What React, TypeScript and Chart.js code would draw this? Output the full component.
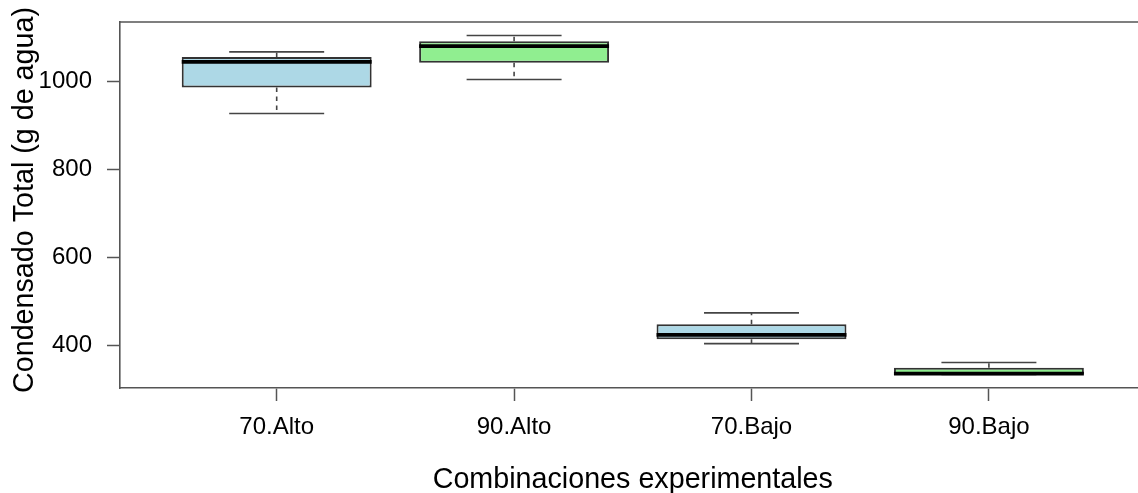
import React, { useEffect, useRef } from 'react';
import { Chart, registerables } from 'chart.js';

Chart.register(...registerables);

// Five-number summaries per experimental combination
const categories = ['70.Alto', '90.Alto', '70.Bajo', '90.Bajo'];
const whiskerLow = [927, 1004, 404, 334];
const q1 = [986, 1042, 414, 335];
const median = [1044, 1080, 424, 336];
const q3 = [1055, 1091, 448, 349];
const whiskerHigh = [1067, 1104, 474, 361];
const boxColors = ['#ADD8E6', '#90EE90', '#ADD8E6', '#90EE90'];
const yTicks = [400, 600, 800, 1000];

const xTitle = 'Combinaciones experimentales';
const yTitle = 'Condensado Total (g de agua)';

const FONT = "'Liberation Sans', Arial, sans-serif";
const AXIS_COLOR = '#555555';
const LINE_COLOR = '#444444';

const positions = categories.map((_, i) => i + 1);

// R-style axis limits: boxes at 1..n with half-unit margins, then 4% padding
const xSpan = categories.length;
const xMin = 0.5 - 0.04 * xSpan;
const xMax = categories.length + 0.5 + 0.04 * xSpan;
const yLo = Math.min(...whiskerLow);
const yHi = Math.max(...whiskerHigh);
const yMin = yLo - 0.04 * (yHi - yLo);
const yMax = yHi + 0.04 * (yHi - yLo);

const noScalePadding = (s: any) => {
  s.paddingTop = 0;
  s.paddingBottom = 0;
  s.paddingLeft = 0;
  s.paddingRight = 0;
};

const boxPlotPlugin = {
  id: 'boxPlotParts',
  afterDatasetsDraw(chart: any) {
    const { ctx, chartArea } = chart;
    const xs = chart.scales.x;
    const ys = chart.scales.y;
    const meta = chart.getDatasetMeta(0);
    ctx.save();
    const seg = (x1: number, y1: number, x2: number, y2: number) => {
      ctx.beginPath();
      ctx.moveTo(x1, y1);
      ctx.lineTo(x2, y2);
      ctx.stroke();
    };
    categories.forEach((_, i) => {
      const cx = xs.getPixelForValue(positions[i]);
      const half = meta.data[i].width / 2;
      const capHalf = half / 2;
      const yLow = ys.getPixelForValue(whiskerLow[i]);
      const yQ1 = ys.getPixelForValue(q1[i]);
      const yMed = ys.getPixelForValue(median[i]);
      const yQ3 = ys.getPixelForValue(q3[i]);
      const yHigh = ys.getPixelForValue(whiskerHigh[i]);

      ctx.strokeStyle = LINE_COLOR;
      ctx.lineWidth = 1.6;
      ctx.setLineDash([4.5, 4.5]);
      seg(cx, yQ3, cx, yHigh);
      seg(cx, yQ1, cx, yLow);
      ctx.setLineDash([]);
      seg(cx - capHalf, yHigh, cx + capHalf, yHigh);
      seg(cx - capHalf, yLow, cx + capHalf, yLow);

      ctx.strokeStyle = '#000000';
      ctx.lineWidth = 3.8;
      seg(cx - half, yMed, cx + half, yMed);
    });

    // top edge of the plot frame
    ctx.strokeStyle = AXIS_COLOR;
    ctx.lineWidth = 1.6;
    seg(chartArea.left, chartArea.top, chartArea.right, chartArea.top);

    // axis titles
    ctx.fillStyle = '#000000';
    ctx.font = `28.7px ${FONT}`;
    ctx.textAlign = 'center';
    ctx.textBaseline = 'alphabetic';
    ctx.fillText(xTitle, (chartArea.left + chartArea.right) / 2, 488);
    ctx.translate(33, 200);
    ctx.rotate(-Math.PI / 2);
    ctx.fillText(yTitle, 0, 0);
    ctx.restore();
  },
};

export default function App() {
  const canvasRef = useRef<HTMLCanvasElement | null>(null);

  useEffect(() => {
    const canvas = canvasRef.current;
    if (!canvas) return;
    const chart = new Chart(canvas, {
      type: 'bar',
      data: {
        datasets: [
          {
            data: categories.map((_, i) => ({ x: positions[i], y: [q1[i], q3[i]] })) as any,
            backgroundColor: boxColors,
            borderColor: '#333333',
            borderWidth: 2,
            borderSkipped: false,
            categoryPercentage: 1,
            barPercentage: 0.8,
          },
        ],
      },
      options: {
        animation: false,
        responsive: false,
        devicePixelRatio: 1,
        layout: { padding: { top: 22, right: 14.4, left: 0, bottom: 0 } },
        plugins: {
          legend: { display: false },
          tooltip: { enabled: false },
        },
        scales: {
          x: {
            type: 'linear',
            min: xMin,
            max: xMax,
            offset: false,
            afterBuildTicks: (s: any) => {
              s.ticks = positions.map((v) => ({ value: v }));
            },
            afterFit: (s: any) => {
              s.height = 105;
              noScalePadding(s);
            },
            ticks: {
              callback: (v: any) => categories[Math.round(Number(v)) - 1],
              font: { family: FONT, size: 24 },
              color: '#000000',
              padding: 12,
              maxRotation: 0,
              autoSkip: false,
            },
            grid: {
              offset: false,
              drawOnChartArea: false,
              tickLength: 13,
              tickColor: AXIS_COLOR,
              tickWidth: 1.5,
            },
            border: { color: AXIS_COLOR, width: 1.6 },
          },
          y: {
            type: 'linear',
            min: yMin,
            max: yMax,
            afterBuildTicks: (s: any) => {
              s.ticks = yTicks.map((v) => ({ value: v }));
            },
            afterFit: (s: any) => {
              s.width = 120;
              noScalePadding(s);
            },
            ticks: {
              callback: (v: any) => String(v),
              font: { family: FONT, size: 24 },
              color: '#000000',
              padding: 15,
            },
            grid: {
              drawOnChartArea: false,
              tickLength: 13,
              tickColor: AXIS_COLOR,
              tickWidth: 1.5,
            },
            border: { color: AXIS_COLOR, width: 1.6 },
          },
        },
      },
      plugins: [boxPlotPlugin],
    } as any);
    return () => chart.destroy();
  }, []);

  return (
    <div
      style={{
        position: 'absolute',
        left: 0,
        top: 0,
        width: 1138,
        height: 493,
        overflow: 'hidden',
        background: '#ffffff',
      }}
    >
      <canvas
        ref={canvasRef}
        width={1160}
        height={493}
        style={{ display: 'block', width: 1160, height: 493 }}
      />
    </div>
  );
}
